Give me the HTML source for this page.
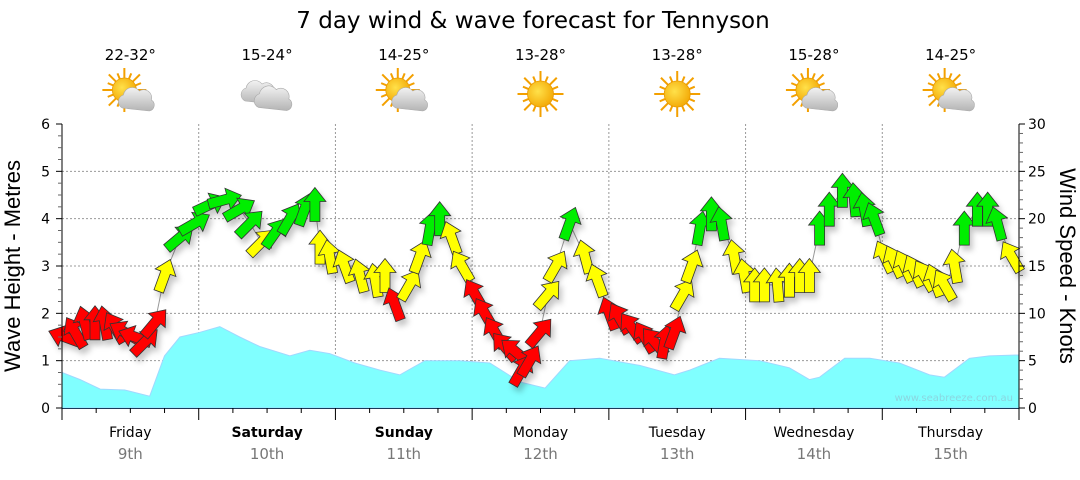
<!DOCTYPE html>
<html><head><meta charset="utf-8"><style>
body{margin:0;background:#fff;width:1080px;height:475px;overflow:hidden}
svg text{font-family:"DejaVu Sans","Liberation Sans",sans-serif}
</style></head><body>
<svg id="c" width="1080" height="475" xmlns="http://www.w3.org/2000/svg">
<defs>
<filter id="sh" x="-50%" y="-50%" width="200%" height="200%"><feDropShadow dx="3" dy="5" stdDeviation="3" flood-color="#000" flood-opacity="0.22"/></filter>
<radialGradient id="sunG" cx="0.4" cy="0.4" r="0.7"><stop offset="0" stop-color="#ffe14a"/><stop offset="1" stop-color="#f2a400"/></radialGradient>
<linearGradient id="cloudG" x1="0" y1="0" x2="0" y2="1"><stop offset="0" stop-color="#f2f2f2"/><stop offset="1" stop-color="#b4b4b4"/></linearGradient>
</defs>
<text x="533" y="28" font-size="23" text-anchor="middle" fill="#000">7 day wind &amp; wave forecast for Tennyson</text>
<g id="topg"></g>
<g id="plot"></g>
</svg>
<script>
const dayNames=["Friday","Saturday","Sunday","Monday","Tuesday","Wednesday","Thursday"];
const dayDates=["9th","10th","11th","12th","13th","14th","15th"];
const dayBold=[false,true,true,false,false,false,false];
const temps=["22-32°","15-24°","14-25°","13-28°","13-28°","15-28°","14-25°"];
const icons=["suncloud","cloud","suncloud","sun","sun","suncloud","suncloud"];
const waveHours=[0,3.2,6.7,11,15.4,18,20.7,24.2,27.7,31.2,34.7,40,43.5,47,51.4,55.8,59.3,63.7,69.8,75.1,80.4,84.8,89.1,94.4,101.4,107.5,110.2,115.4,122.5,127.7,131.2,133,137.4,141.8,147,152.3,154.9,159.3,162.8,168];
const waveM=[0.75,0.6,0.4,0.38,0.25,1.1,1.5,1.6,1.72,1.5,1.3,1.1,1.22,1.15,0.95,0.8,0.7,1.0,1.0,0.95,0.55,0.42,1.0,1.05,0.9,0.7,0.8,1.05,1.0,0.85,0.6,0.65,1.05,1.05,0.95,0.7,0.65,1.05,1.1,1.12];
const windHours=[0.5,2.3,4,5.8,7.5,9.3,11,12.8,14.6,16.3,18,20.7,23.3,26,28.6,31.2,33,35,37.4,40,42.6,44.4,45.3,47,49.6,52.3,55,56.7,58.4,61,62.8,64.6,66.3,68.4,70.2,72.5,74.2,76,77.7,79.5,80.7,82.1,83.9,85.3,86.7,89.1,91.8,94,96.1,97.9,100,102.3,104,105.8,107.5,109,110.5,112,114,115.8,118,119.8,121.6,123.3,125.6,127.7,129.5,131.2,133,134.7,137,139.1,140.9,142.6,144.4,146.1,147.9,149.6,151.4,153.2,154.9,156.7,158.4,160.7,162.5,164.2,166.7];
const windKn=[7.5,8,9,9,9,8.5,8,7.5,7,9,14,18,19.5,21.5,22,21,19.5,17.5,18.5,20,21,21.5,17,16,15,14,13.5,14,11,13,16,19,20,18,15,12,10,8,6.5,6,4,5,8,12,15,19.5,16,13.5,10,9.5,8.5,7.5,7,7,8,12,15,19,20.5,19.5,16,14,13,13,13,13.5,14,14,19,21,23,22,21,20,16,15.5,15,14.5,14,13.5,13,15,19,21,21,19.5,16];
const windDir=[-70,-30,-15,0,-10,-30,-60,-70,45,40,20,50,60,65,75,60,45,45,35,30,20,0,0,-10,-20,-15,-10,0,-20,30,20,10,0,-20,-30,-30,-30,-30,-40,-50,30,30,40,40,30,20,-15,-20,-20,-30,-35,-30,-40,10,20,30,20,10,0,-10,-10,-10,0,0,-5,0,0,0,0,0,0,-5,-10,-20,-25,-25,-25,-25,-30,-20,-30,-10,0,0,0,-15,-30];
const windCol="rrrrrrrrrr"+"y"+"gggggg"+"y"+"gggg"+"yyyyyy"+"r"+"yy"+"gg"+"yy"+"rrrrrrrr"+"yy"+"g"+"yy"+"rrrrrrr"+"yy"+"ggg"+"yyyyyyyy"+"gggggg"+"yyyyyyyy"+"gggg"+"y";
const yTicksM=[0,1,2,3,4,5,6];
const yTicksKn=[0,5,10,15,20,25,30];

const NS="http://www.w3.org/2000/svg";
const X0=62,X1=1019,Y0=408,Y6=124;
const xS=h=>X0+h*(X1-X0)/168;
const yM=m=>Y0-m*(Y0-Y6)/6;
const yK=k=>Y0-k*(Y0-Y6)/30;
function mk(tag,attrs,parent,txt){const e=document.createElementNS(NS,tag);for(const k in attrs)e.setAttribute(k,attrs[k]);if(txt!==undefined)e.textContent=txt;parent.appendChild(e);return e;}
const plot=document.getElementById('plot');
const topG=document.getElementById('topg');

yTicksM.forEach(m=>{if(m>0&&m<6){const g=mk('line',{x1:X0,x2:X1,y1:yM(m),y2:yM(m),stroke:'#999','stroke-dasharray':'2,2','stroke-width':1},plot);

}});
for(let d=1;d<7;d++){const g=mk('line',{x1:xS(d*24),x2:xS(d*24),y1:Y6,y2:Y0,stroke:'#999','stroke-dasharray':'2,2','stroke-width':1},plot);

}

let p='M'+xS(waveHours[0])+','+Y0;
waveHours.forEach((h,i)=>{p+=' L'+xS(h).toFixed(1)+','+yM(waveM[i]).toFixed(1);});
p+=' L'+xS(waveHours[waveHours.length-1])+','+Y0+' Z';
const wa=mk('path',{d:p,fill:'#80ffff',stroke:'#a0d8ff','stroke-width':1},plot);


const wm=mk('text',{x:1013,y:401,'font-size':10,fill:'#8ad6e0','text-anchor':'end'},plot,'www.seabreeze.com.au');



let lp='';windHours.forEach((h,i)=>{lp+=(i?' L':'M')+xS(h).toFixed(1)+','+yK(windKn[i]).toFixed(1);});
const wl=mk('path',{d:lp,fill:'none',stroke:'#999','stroke-width':1},plot);


const colors={r:'#ff0000',y:'#ffff00',g:'#00ee00'};
const ag=mk('g',{filter:'url(#sh)'},plot);
windHours.forEach((h,i)=>{
 const a=mk('path',{d:'M0,-17 L11,-3 L5,-3 L5,17 L-5,17 L-5,-3 L-11,-3 Z',fill:colors[windCol[i]]||'#ffff00',stroke:'#333','stroke-width':0.8,transform:`translate(${xS(h).toFixed(1)},${yK(windKn[i]).toFixed(1)}) rotate(${windDir[i]||0})`},ag);
 
 
});

const ax=mk('g',{stroke:'#000','stroke-width':1,fill:'none'},plot);


mk('line',{x1:X0,x2:X0,y1:Y6,y2:Y0},ax);
mk('line',{x1:X1,x2:X1,y1:Y6,y2:Y0},ax);
mk('line',{x1:X0,x2:X1,y1:Y0+0.5,y2:Y0+0.5,stroke:'#1a3a5a'},ax);
for(let i=0;i<=24;i++){const y=yM(i/4);mk('line',{x1:X0-(i%4?4:6),x2:X0,y1:y,y2:y,stroke:i%4?'#666':'#000'},ax);}
for(let i=0;i<=30;i++){const y=yK(i);mk('line',{x1:X1,x2:X1+(i%5?4:6),y1:y,y2:y,stroke:i%5?'#666':'#000'},ax);}
for(let i=0;i<=28;i++){const x=xS(i*6);mk('line',{x1:x,x2:x,y1:Y0,y2:Y0+(i%4?5:12)},ax);}
yTicksM.forEach(m=>{const t=mk('text',{x:X0-12,y:yM(m)+5,'font-size':14,'text-anchor':'end',fill:'#000'},plot,String(m));

});
yTicksKn.forEach(k=>{const t=mk('text',{x:X1+9,y:yK(k)+5,'font-size':14,fill:'#000'},plot,String(k));

});
const yl=mk('text',{x:0,y:0,'font-size':22,'text-anchor':'middle',fill:'#000',transform:`translate(20,${(Y0+Y6)/2}) rotate(-90)`,style:'font-family:"Liberation Sans",sans-serif'},plot,'Wave Height - Metres');


const yr=mk('text',{x:0,y:0,'font-size':22,'text-anchor':'middle',fill:'#000',transform:`translate(1060,${(Y0+Y6)/2}) rotate(90)`,style:'font-family:"Liberation Sans",sans-serif'},plot,'Wind Speed - Knots');



function sunIcon(g,cx,cy,r){
 for(let k=0;k<16;k++){const an=k*Math.PI/8,l=k%2?r+6:r+10;
  mk('line',{x1:cx+Math.cos(an)*r*0.8,y1:cy+Math.sin(an)*r*0.8,x2:cx+Math.cos(an)*l,y2:cy+Math.sin(an)*l,stroke:'#f3a000','stroke-width':2},g);}
 mk('circle',{cx:cx,cy:cy,r:r,fill:'url(#sunG)',stroke:'#e89a00','stroke-width':0.8},g);
}
function cloudIcon(g,cx,cy,s){
 mk('path',{d:`M${cx-14},${cy+8} a7,7 0 0 1 1,-13 a9,9 0 0 1 16,-4 a8,8 0 0 1 12,9 a6,6 0 0 1 -2,11 Z`,fill:'url(#cloudG)',stroke:'#aaa','stroke-width':0.6,transform:`translate(${cx} ${cy}) scale(${s}) translate(${-cx} ${-cy})`},g);
}
for(let d=0;d<7;d++){
 const cx=xS(d*24+12);
 const t1=mk('text',{x:cx,y:437,'font-size':14,'text-anchor':'middle',fill:'#000','font-weight':dayBold[d]?'bold':'normal'},plot,dayNames[d]);
 
 
 const t2=mk('text',{x:cx,y:459,'font-size':15,'text-anchor':'middle',fill:'#777'},plot,dayDates[d]);
 
 
 const tt=mk('text',{x:cx,y:60,'font-size':15,'text-anchor':'middle',fill:'#000'},topG,temps[d]);
 
 
 const g=mk('g',{},topG);
 
 
 if(icons[d]==='sun'){sunIcon(g,cx,94,13);}
 else if(icons[d]==='suncloud'){sunIcon(g,cx-6,90,12);cloudIcon(g,cx+6,100,1);}
 else {cloudIcon(g,cx-8,93,1);cloudIcon(g,cx+6,99,1.05);}
}
</script>
</body></html>
